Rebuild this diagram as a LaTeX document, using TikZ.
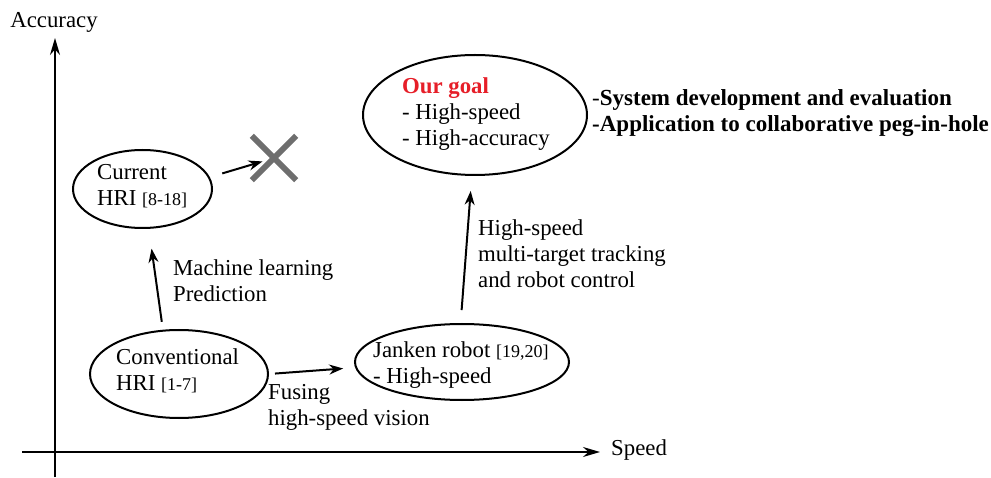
\documentclass[tikz,border=0pt]{standalone}
\usepackage{fontspec}
\setmainfont{Liberation Serif}
\usetikzlibrary{shapes.geometric,arrows.meta}
\definecolor{goalred}{RGB}{230,30,40}
\definecolor{xgray}{RGB}{110,110,110}
\newcommand{\refs}[1]{{\fontsize{18}{20}\selectfont #1}}
\begin{document}
\begin{tikzpicture}[x=1pt,y=-1pt,
  every node/.style={font=\fontsize{22.8}{26}\selectfont},
  ell/.style={draw,ellipse,line width=2pt,inner sep=0pt},
  lbl/.style={align=left,anchor=west,inner sep=0pt},
  arr/.style={line width=2pt,-{Stealth[length=14pt,width=10pt]}},
  axis/.style={line width=1.6pt,-{Stealth[length=17pt,width=10pt]}}]
\useasboundingbox (0,0) rectangle (991,478);
% axes
\coordinate (yb) at (55,477);
\coordinate (yt) at (55,38);
\coordinate (xl) at (22,452);
\coordinate (xr) at (600,452);
\draw[axis] (yb) -- (yt);
\draw[axis] (xl) -- (xr);
\node[inner sep=0pt] (acc) at (54,22) {Accuracy};
\node[lbl] (spd) at (611,450) {Speed};
% ellipses
\node[ell,minimum width=139pt,minimum height=78pt] (cur) at (142.5,189) {};
\node[ell,minimum width=224pt,minimum height=120pt] (goal) at (475,115) {};
\node[ell,minimum width=178pt,minimum height=88pt] (conv) at (179,374) {};
\node[ell,minimum width=214pt,minimum height=76pt] (jank) at (462,362) {};
% ellipse texts
\node[lbl] (curt) at (97,186) {Current\\HRI \refs{[8-18]}};
\node[lbl] (goalt) at (402,114) {\textcolor{goalred}{\textbf{Our goal}}\\- High-speed\\- High-accuracy};
\node[lbl] (convt) at (116,371) {Conventional\\HRI \refs{[1-7]}};
\node[lbl] (jankt) at (373,365) {Janken robot \refs{[19,20]}\\- High-speed};
% X mark
\node[minimum size=44pt,inner sep=0pt] (xm) at (274,158) {};
\draw[xgray,line width=6pt] (xm.north west) -- (xm.south east) (xm.south west) -- (xm.north east);
% connectors
\draw[arr,shorten <=13pt,shorten >=12pt] (cur.10) -- (xm.center);
\draw[arr,shorten <=8pt,shorten >=20pt] (conv.110) -- (cur.-81);
\draw[arr,shorten <=6pt,shorten >=12pt] (conv.east) -- (jank.183);
\draw[arr,shorten <=13pt,shorten >=15pt] (jank.92) -- (goal.-93);
% labels
\node[lbl] (ml) at (173,281) {Machine learning\\Prediction};
\node[lbl] (fu) at (268,407) {Fusing\\high-speed vision};
\node[lbl] (hs) at (478,254) {High-speed\\multi-target tracking\\and robot control};
\node[lbl,font=\fontsize{23}{26}\selectfont] (sys) at (592,113) {-\textbf{System development and evaluation}\\\textbf{-Application to collaborative peg-in-hole}};
\end{tikzpicture}
\end{document}
